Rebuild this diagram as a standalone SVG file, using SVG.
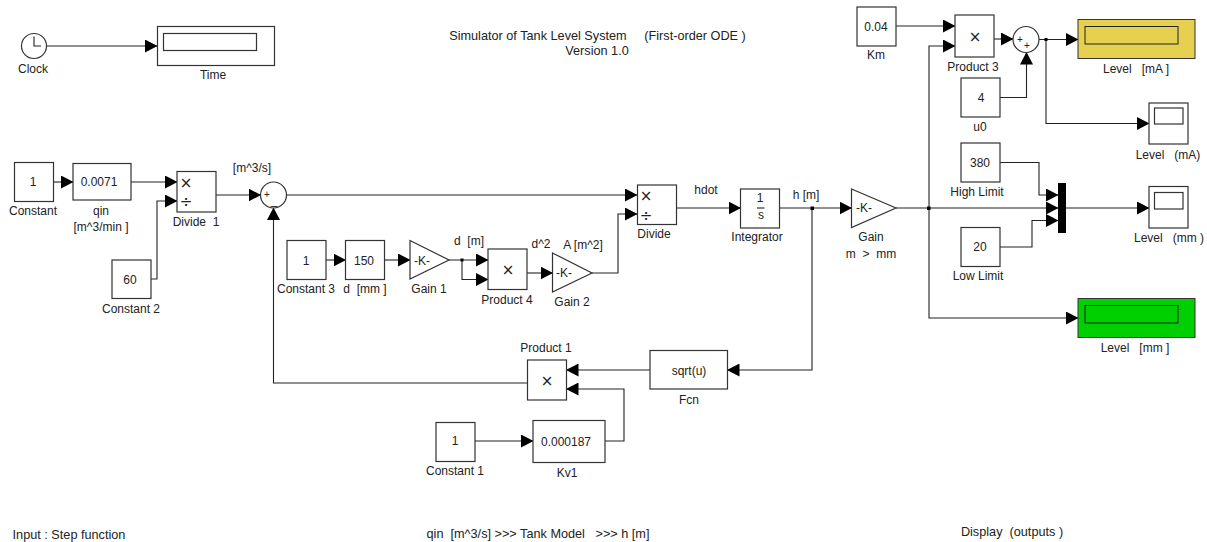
<svg xmlns="http://www.w3.org/2000/svg" width="1207" height="542" viewBox="0 0 1207 542">
<style>
text{font-family:"Liberation Sans",Arial,sans-serif;font-size:12px;fill:#222;text-anchor:middle;white-space:pre}
.b{fill:#fff;stroke:#333;stroke-width:1.2}
.w{fill:none;stroke:#222;stroke-width:1.1}
text.m{font-family:"DejaVu Sans ExtraLight","DejaVu Sans",sans-serif;font-size:15px;fill:#222}
text.p{font-size:10px}
text.n{font-size:12.700px}
</style>
<defs><marker id="a" markerUnits="userSpaceOnUse" markerWidth="13" markerHeight="13" refX="12" refY="6.5" orient="auto"><path d="M0 0L12.5 6.5L0 13z" fill="#000"/></marker></defs>
<rect width="1207" height="542" fill="#fff"/>
<g id="connectors" class="conn">
<path class="w" marker-end="url(#a)" d="M47 46H157"/>
<path class="w" marker-end="url(#a)" d="M53.500 182H73"/>
<path class="w" marker-end="url(#a)" d="M131 182H177"/>
<path class="w" marker-end="url(#a)" d="M151 279H157V201H177"/>
<path class="w" marker-end="url(#a)" d="M216 195H260.500"/>
<path class="w" marker-end="url(#a)" d="M286.500 195H637"/>
<path class="w" marker-end="url(#a)" d="M326 260H345.500"/>
<path class="w" marker-end="url(#a)" d="M384.500 260H410"/>
<path class="w" marker-end="url(#a)" d="M449 260H488"/>
<path class="w" marker-end="url(#a)" d="M462 260V279.500H488"/>
<path class="w" marker-end="url(#a)" d="M527 273H552.500"/>
<path class="w" marker-end="url(#a)" d="M592 273H618V214H637"/>
<path class="w" marker-end="url(#a)" d="M676 208H740.500"/>
<path class="w" marker-end="url(#a)" d="M779.500 208H851.500"/>
<path class="w" marker-end="url(#a)" d="M812 208V370H727.500"/>
<path class="w" marker-end="url(#a)" d="M650 370H566.500"/>
<path class="w" marker-end="url(#a)" d="M605 441H624V389H566.500"/>
<path class="w" marker-end="url(#a)" d="M475 441H533"/>
<path class="w" marker-end="url(#a)" d="M527.500 383H273.500V208"/>
<path class="w" marker-end="url(#a)" d="M896 208H1058"/>
<path class="w" marker-end="url(#a)" d="M929 208V318H1078"/>
<path class="w" marker-end="url(#a)" d="M929 208V46H955"/>
<path class="w" marker-end="url(#a)" d="M896 26H955"/>
<path class="w" marker-end="url(#a)" d="M994 39H1013"/>
<path class="w" marker-end="url(#a)" d="M1000 97.500H1026.500V52.500"/>
<path class="w" marker-end="url(#a)" d="M1039 39.500H1078"/>
<path class="w" marker-end="url(#a)" d="M1046 39.500V123.500H1149"/>
<path class="w" marker-end="url(#a)" d="M1000 162.500H1039V195H1058"/>
<path class="w" marker-end="url(#a)" d="M1000 247H1032V220.500H1058"/>
<path class="w" marker-end="url(#a)" d="M1066 208H1149"/>
<rect x="460.500" y="258.500" width="3" height="3" fill="#000"/><rect x="810.500" y="206.500" width="3.500" height="3.500" fill="#000"/><rect x="927" y="206.500" width="3.500" height="3.500" fill="#000"/><rect x="1044.500" y="38" width="3" height="3" fill="#000"/>
</g>
<g id="clock"><circle class="b" cx="34" cy="46" r="12.500"/><path class="w" d="M34 36.500V46H41"/><text x="33" y="73">Clock</text></g>
<g id="time"><rect class="b" x="157.500" y="26.500" width="117" height="39"/><rect class="b" x="163.500" y="33.500" width="93" height="17"/><text x="213" y="79">Time</text></g>
<g id="title"><text class="n" x="597.500" y="39.500">Simulator of Tank Level System     (First-order ODE )</text><text class="n" x="597" y="55">Version 1.0</text></g>
<g id="constant"><rect class="b" x="14.500" y="162.500" width="39" height="39"/><text x="33" y="186">1</text><text x="33" y="215">Constant</text></g>
<g id="qin"><rect class="b" x="73" y="163.500" width="58" height="36.500"/><text x="99" y="186">0.0071</text><text x="101" y="215">qin</text><text x="101" y="231">[m^3/min ]</text></g>
<g id="divide1"><rect class="b" x="177" y="171.500" width="39" height="40.500"/><text class="m" x="186" y="187.500">×</text><text class="m" x="186" y="207">÷</text><text x="196" y="226">Divide  1</text></g>
<g id="sum1"><circle class="b" cx="273.500" cy="195" r="13"/><text class="p" x="267" y="198">+</text><text x="274" y="204">_</text><text x="252" y="172">[m^3/s]</text></g>
<g id="constant2"><rect class="b" x="112" y="260" width="39" height="38.500"/><text x="130" y="284">60</text><text x="131" y="313">Constant 2</text></g>
<g id="constant3"><rect class="b" x="287" y="240.500" width="39" height="39"/><text x="306" y="265">1</text><text x="306" y="293">Constant 3</text></g>
<g id="dmm"><rect class="b" x="345.500" y="240.500" width="39" height="39"/><text x="364" y="265">150</text><text x="365" y="293">d  [mm ]</text></g>
<g id="gain1"><path class="b" d="M410 240.500L449 260L410 279z"/><text x="422" y="265">-K-</text><text x="429" y="293">Gain 1</text><text x="469" y="245">d  [m]</text></g>
<g id="product4"><rect class="b" x="488" y="249" width="39" height="40.500"/><text class="m" x="508" y="274.500">×</text><text x="507" y="304">Product 4</text><text x="541" y="248">d^2</text></g>
<g id="gain2"><path class="b" d="M552.500 253L592 273L552.500 292z"/><text x="564" y="277">-K-</text><text x="572" y="306">Gain 2</text><text x="583" y="249">A [m^2]</text></g>
<g id="divide"><rect class="b" x="637.500" y="185" width="39" height="39.500"/><text class="m" x="646" y="200.500">×</text><text class="m" x="646" y="220.500">÷</text><text x="654" y="238">Divide</text></g>
<g id="hdot"><text x="706" y="194">hdot</text></g>
<g id="integrator"><rect class="b" x="740.500" y="189" width="39" height="39"/><text x="760" y="202">1</text><path class="w" d="M757 208H764.500"/><text x="761" y="219">s</text><text x="757" y="241">Integrator</text></g>
<g id="hm"><text x="806" y="199">h [m]</text></g>
<g id="fcn"><rect class="b" x="650" y="350.500" width="77.500" height="38.500"/><text x="689" y="375">sqrt(u)</text><text x="689" y="404">Fcn</text></g>
<g id="product1"><rect class="b" x="527.500" y="360" width="39" height="40"/><text class="m" x="547" y="385.500">×</text><text x="546" y="352">Product 1</text></g>
<g id="constant1"><rect class="b" x="436" y="422.500" width="39" height="39"/><text x="455" y="445">1</text><text x="455" y="475">Constant 1</text></g>
<g id="kv1"><rect class="b" x="533" y="420.500" width="72" height="42"/><text x="566" y="446">0.000187</text><text x="567" y="477">Kv1</text></g>
<g id="gain"><path class="b" d="M851.500 189L896 208L851.500 227.500z"/><text x="864" y="212">-K-</text><text x="871" y="241">Gain</text><text x="871" y="258">m  &gt;  mm</text></g>
<g id="km"><rect class="b" x="857" y="7" width="39" height="39"/><text x="876" y="31">0.04</text><text x="876" y="59">Km</text></g>
<g id="product3"><rect class="b" x="955" y="15" width="39" height="42"/><text class="m" x="975" y="41.500">×</text><text x="973" y="71">Product 3</text></g>
<g id="sum2"><circle class="b" cx="1026" cy="39.500" r="13"/><text class="p" x="1020" y="43">+</text><text class="p" x="1027" y="49">+</text></g>
<g id="leveldisp"><rect x="1078" y="19.500" width="117" height="39" fill="#e6d050" stroke="#333"/><rect x="1085" y="26.500" width="93" height="17.500" fill="#e6d050" stroke="#222"/><text x="1136" y="73">Level   [mA ]</text></g>
<g id="u0"><rect class="b" x="961" y="78" width="39" height="39"/><text x="981" y="102">4</text><text x="980" y="131">u0</text></g>
<g id="highlimit"><rect class="b" x="961" y="143" width="39" height="39"/><text x="980" y="167">380</text><text x="977" y="196">High Limit</text></g>
<g id="lowlimit"><rect class="b" x="961" y="227.500" width="39" height="39"/><text x="980" y="251">20</text><text x="978" y="280">Low Limit</text></g>
<g id="mux"><rect x="1058" y="183" width="8" height="50" fill="#000"/></g>
<g id="scope1"><rect class="b" x="1149" y="103" width="39" height="41"/><rect class="b" x="1154.500" y="108" width="28.500" height="16"/><text x="1168" y="159">Level   (mA)</text></g>
<g id="scope2"><rect class="b" x="1149" y="186.500" width="39" height="41.500"/><rect class="b" x="1154.500" y="192.500" width="28.500" height="16.500"/><text x="1169" y="242">Level   (mm )</text></g>
<g id="levelmm"><rect x="1078" y="298.500" width="117" height="39" fill="#00d000" stroke="#333"/><rect x="1085" y="305.500" width="93" height="17.500" fill="#00d000" stroke="#222"/><text x="1135" y="352">Level   [mm ]</text></g>
<g id="notes"><text class="n" x="69" y="538.500">Input : Step function</text><text class="n" x="538" y="538">qin  [m^3/s] &gt;&gt;&gt; Tank Model   &gt;&gt;&gt; h [m]</text><text class="n" x="1012" y="536">Display  (outputs )</text></g>
</svg>
